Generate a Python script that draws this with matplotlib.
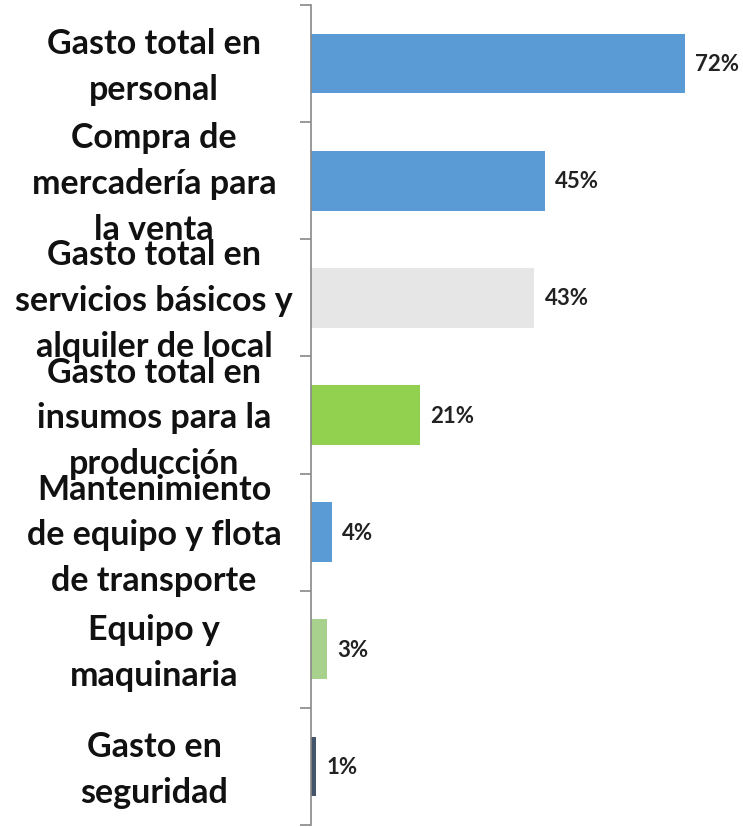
import matplotlib.pyplot as plt

categories = [
    "Gasto total en\npersonal",
    "Compra de\nmercadería para\nla venta",
    "Gasto total en\nservicios básicos y\nalquiler de local",
    "Gasto total en\ninsumos para la\nproducción",
    "Mantenimiento\nde equipo y flota\nde transporte",
    "Equipo y\nmaquinaria",
    "Gasto en\nseguridad",
]
values = [72, 45, 43, 21, 4, 3, 1]
value_labels = ["72%", "45%", "43%", "21%", "4%", "3%", "1%"]
colors = ["#5B9BD5", "#5B9BD5", "#E7E6E6", "#92D050", "#5B9BD5", "#A9D18E", "#44546A"]

plt.rcParams['font.family'] = ['Lato', 'DejaVu Sans']

fig = plt.figure(figsize=(7.43, 8.28), dpi=100)
ax = fig.add_axes([311 / 743, 2 / 828, 432 / 743, 820 / 828])

pos = list(range(len(categories)))
ax.barh(pos, values, height=0.51, color=colors)
ax.set_xlim(0, 432 / 5.194)
ax.set_ylim(len(categories) - 0.5, -0.5)

for p, v, lab in zip(pos, values, value_labels):
    ax.text(v + 2, p, lab, va="center", ha="left", fontsize=16, fontweight="bold", color="#222222")

ax.set_yticks([p - 0.5 for p in pos] + [len(categories) - 0.5])
ax.set_yticklabels([])
ax.tick_params(axis="y", length=8, width=1.2, color="#888888")
ax.set_xticks([])
for p, c in zip(pos, categories):
    ax.text(-157 / 432, p + 0.02, c, transform=ax.get_yaxis_transform(), ha="center", va="center",
            fontsize=24.5, fontweight="bold", linespacing=1.53, color="#111111")

for s in ["top", "right", "bottom"]:
    ax.spines[s].set_visible(False)
ax.spines["left"].set_color("#888888")
ax.spines["left"].set_linewidth(1.2)

fig.savefig("out.png", dpi=100)
